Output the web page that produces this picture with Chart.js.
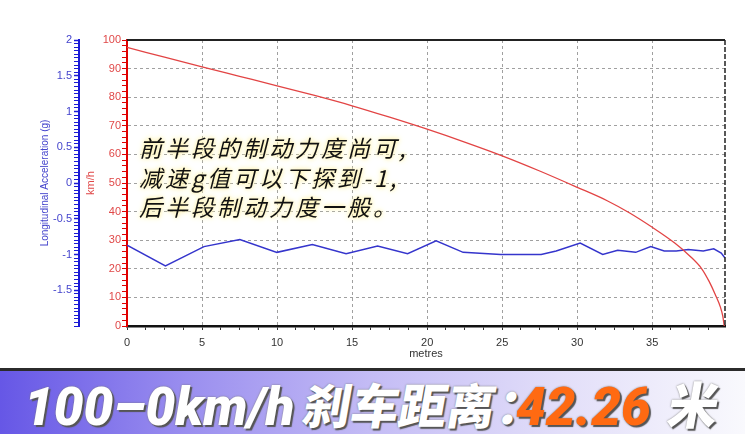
<!DOCTYPE html>
<html lang="zh">
<head>
  <meta charset="UTF-8" />
  <title>100-0km/h 刹车距离</title>
  <script src="https://cdn.jsdelivr.net/npm/chart.js"></script>
  <style>
    body { margin: 0; width: 745px; height: 438px; overflow: hidden; background: #fff; position: relative; font-family: 'Liberation Sans', Arial, sans-serif; }
    .chart-box { position: absolute; left: 0; top: 0; width: 745px; height: 365px; }
    .note { position: absolute; left: 139px; top: 133px; font-family: 'Noto Sans CJK SC', sans-serif; font-size: 23px; line-height: 29.5px; letter-spacing: 3px; font-style: italic; color: #111; white-space: nowrap;
            text-shadow: 0 0 2px #fff6c8, 0 0 4px #fff1a8, 0 0 6px #fff1a8; }
    .banner { position: absolute; left: 0; top: 368px; width: 745px; height: 63px; border-top: 3px solid #2b2b2b;
              background: linear-gradient(to right, #6657e6 0%, #9a8eef 25%, #c4bcf5 50%, #e2def9 75%, #f9f9fd 100%); }
    .big { position: absolute; white-space: nowrap; color: #fff; transform-origin: left bottom;
           text-shadow: 2px 2px 1px #555, 0 0 2px #777; }
    .latin { font-family: Roboto, sans-serif; font-weight: 900; font-style: italic; font-size: 53px; line-height: 53px; top: 381px; }
    .cjk { font-family: 'Noto Sans CJK SC', sans-serif; font-weight: 900; font-size: 48px; line-height: 48px; top: 379px; transform: skewX(-10deg); }
    .orange { color: #ff6a12; }
  </style>
</head>
<body>
  <div class="chart-box"><canvas id="brakeChart"></canvas></div>

  <div class="note">前半段的制动力度尚可,<br>减速g值可以下探到-1,<br>后半段制动力度一般。</div>

  <div class="banner"></div>
  <span class="big latin" style="left:24px;">100–0km/h</span>
  <span class="big cjk" style="left:300px;">刹车距离</span>
  <span class="big cjk" style="left:494px;">：</span>
  <span class="big latin orange" style="left:516px;">42.26</span>
  <span class="big cjk" style="left:665px; font-size:50px; line-height:50px; top:377px;">米</span>

  <script>
    // 距离 (m) / 车速 (km/h)
    const speedDist = [0, 2.5, 5, 7.5, 10, 12.5, 15, 17.5, 20, 22.5, 25, 27.5, 30, 32, 33.5, 35, 36.5, 37.5, 38.3, 38.8, 39.2, 39.55, 39.7, 39.8];
    const speedKmh  = [97.4, 94, 90.6, 87.3, 84, 80.6, 77, 73, 68.8, 64.3, 59.5, 54.2, 48.5, 43.8, 39.5, 34.5, 29, 24.5, 20, 15.5, 11, 6.5, 3.5, 0];

    // 距离 (m) / 纵向加速度 (g)
    const accelDist = [0, 2.56, 5.13, 7.52, 9.99, 12.35, 14.6, 16.7, 18.7, 20.6, 22.4, 24.9, 27.6, 28.6, 30.2, 31.7, 32.7, 33.9, 34.9, 35.8, 36.6, 37.4, 38.4, 39.1, 39.6, 39.85];
    const accelG    = [-0.87, -1.16, -0.89, -0.79, -0.97, -0.86, -0.99, -0.88, -0.99, -0.81, -0.97, -1.0, -1.0, -0.95, -0.84, -1.0, -0.94, -0.97, -0.89, -0.95, -0.95, -0.93, -0.95, -0.92, -0.98, -1.05];

    // 刻度标签
    const xLabels = [0, 5, 10, 15, 20, 25, 30, 35];
    const speedLabels = [0, 10, 20, 30, 40, 50, 60, 70, 80, 90, 100];
    const accelLabels = [2, 1.5, 1, 0.5, 0, -0.5, -1, -1.5];

    const xMax = 39.85;

    // 上边框和右边框
    const frame = {
      id: 'frame',
      afterDatasetsDraw(chart) {
        const { ctx, chartArea: a } = chart;
        ctx.save();
        ctx.strokeStyle = '#222';
        ctx.lineWidth = 2;
        ctx.beginPath(); ctx.moveTo(a.left, a.top); ctx.lineTo(a.right, a.top); ctx.stroke();
        ctx.lineWidth = 1.5;
        ctx.setLineDash([5, 2]);
        ctx.beginPath(); ctx.moveTo(a.right, a.top); ctx.lineTo(a.right, a.bottom); ctx.stroke();
        ctx.restore();
      }
    };

    const clear = 'rgba(0,0,0,0)';

    new Chart(document.getElementById('brakeChart'), {
      type: 'line',
      data: {
        datasets: [
          {
            label: 'km/h',
            data: speedDist.map((d, i) => ({ x: d, y: speedKmh[i] })),
            yAxisID: 'speed',
            borderColor: '#e24444',
            borderWidth: 1.3,
            pointRadius: 0,
            cubicInterpolationMode: 'monotone'
          },
          {
            label: 'g',
            data: accelDist.map((d, i) => ({ x: d, y: accelG[i] })),
            yAxisID: 'accel',
            borderColor: '#3535cc',
            borderWidth: 1.5,
            pointRadius: 0,
            tension: 0
          }
        ]
      },
      options: {
        responsive: true,
        maintainAspectRatio: false,
        animation: false,
        layout: { padding: { left: 0, right: 20, top: 40, bottom: 0 } },
        plugins: { legend: { display: false }, tooltip: { enabled: false } },
        scales: {
          x: {
            type: 'linear',
            min: 0,
            max: xMax,
            afterBuildTicks(axis) {
              const t = [];
              for (let v = 0; v <= xMax; v += 1.25) t.push({ value: v });
              axis.ticks = t;
            },
            afterFit(axis) { axis.height = 39; },
            ticks: {
              autoSkip: false, maxRotation: 0, padding: 6,
              color: '#333', font: { family: 'Liberation Sans', size: 11 },
              callback: v => xLabels.includes(v) ? String(v) : ''
            },
            grid: {
              color: c => (c.tick && c.tick.value % 5 === 0 && c.tick.value > 0) ? '#a0a0a0' : clear,
              tickColor: '#333', tickLength: 4, lineWidth: 1
            },
            border: { color: '#111', width: 2.5, dash: [3, 3] },
            title: { display: true, text: 'metres', color: '#333', font: { family: 'Liberation Sans', size: 11 }, padding: { top: 0, bottom: 4 } }
          },
          speed: {
            position: 'left',
            weight: 0,
            min: 0,
            max: 100,
            afterBuildTicks(axis) {
              const t = [];
              for (let v = 0; v <= 100; v += 2) t.push({ value: v });
              axis.ticks = t;
            },
            afterFit(axis) { axis.width = 48; },
            ticks: {
              autoSkip: false, padding: 1,
              color: '#e04848', font: { family: 'Liberation Sans', size: 11 },
              callback: v => speedLabels.includes(v) ? String(v) : ''
            },
            grid: {
              color: c => (c.tick && c.tick.value % 10 === 0 && c.tick.value > 0 && c.tick.value < 100) ? '#a0a0a0' : clear,
              tickColor: '#e00000', tickLength: 5, lineWidth: 1
            },
            border: { color: '#e00000', width: 2, dash: [3, 3] },
            title: { display: true, text: 'km/h', color: '#e04848', font: { family: 'Liberation Sans', size: 11 }, padding: { top: 5, bottom: 0 } }
          },
          accel: {
            position: 'left',
            weight: 1,
            min: -2,
            max: 2,
            afterBuildTicks(axis) {
              const t = [];
              for (let k = -40; k <= 40; k++) t.push({ value: k / 20 });
              axis.ticks = t;
            },
            afterFit(axis) { axis.width = 79; },
            ticks: {
              autoSkip: false, padding: 2,
              color: '#4444cc', font: { family: 'Liberation Sans', size: 11 },
              callback: v => accelLabels.includes(v) ? String(v) : ''
            },
            grid: {
              drawOnChartArea: false,
              tickColor: '#1a1ad6', tickLength: 5,
              tickWidth: c => (c.tick && accelLabels.includes(c.tick.value)) ? 1.5 : 1
            },
            border: { color: '#1a1ad6', width: 2 },
            title: { display: true, text: 'Longitudinal Acceleration (g)', color: '#4444cc', font: { family: 'Liberation Sans', size: 10 }, padding: { top: 39, bottom: 0 } }
          }
        }
      },
      plugins: [frame]
    });
  </script>
</body>
</html>
